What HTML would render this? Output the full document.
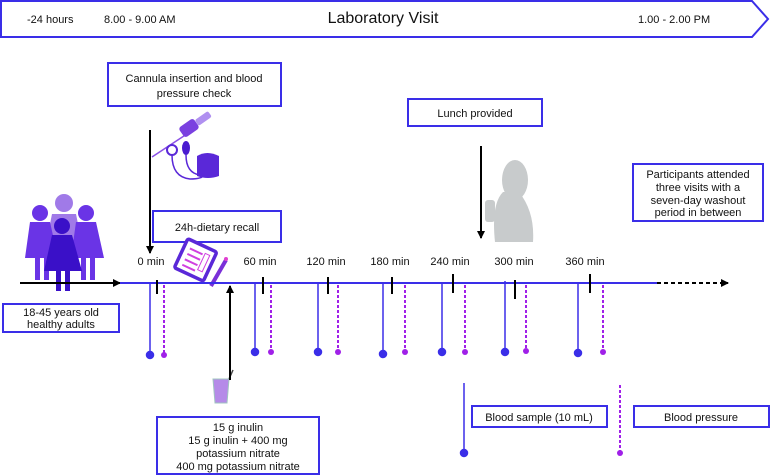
<!DOCTYPE html>
<html><head><meta charset="utf-8"><style>
html,body{margin:0;padding:0;background:#fff;width:770px;height:475px;overflow:hidden}
svg text{font-family:"Liberation Sans",sans-serif;fill:#111}
</style></head><body>
<svg width="770" height="475" viewBox="0 0 770 475" xmlns="http://www.w3.org/2000/svg">
<defs>
<marker id="ah" markerWidth="8" markerHeight="8" refX="7" refY="4" orient="auto" markerUnits="userSpaceOnUse"><path d="M0,0 L8,4 L0,8 z" fill="#000"/></marker>
</defs>
<polygon points="1,1 752,1 768,19 752,37 1,37" fill="#fff" stroke="#3a2ee8" stroke-width="2"/>
<text x="27" y="23" font-size="11">-24 hours</text>
<text x="104" y="23" font-size="11">8.00 - 9.00 AM</text>
<text x="383" y="23" font-size="16" text-anchor="middle">Laboratory Visit</text>
<text x="638" y="23" font-size="11">1.00 - 2.00 PM</text>

<g fill="#fff" stroke="#3a2ee8" stroke-width="2">
<rect x="108" y="63" width="173" height="43"/>
<rect x="408" y="99" width="134" height="27"/>
<rect x="633" y="164" width="130" height="57"/>
<rect x="153" y="211" width="128" height="31"/>
<rect x="3" y="304" width="116" height="28"/>
<rect x="157" y="417" width="162" height="57"/>
<rect x="472" y="406" width="135" height="21"/>
<rect x="634" y="406" width="135" height="21"/>
</g>
<g font-size="11" text-anchor="middle">
<text x="194" y="82">Cannula insertion and blood</text>
<text x="194" y="97">pressure check</text>
<text x="475" y="117">Lunch provided</text>
<text x="698" y="178">Participants attended</text>
<text x="698" y="191">three visits with a</text>
<text x="698" y="204">seven-day washout</text>
<text x="698" y="216">period in between</text>
<text x="217" y="231">24h-dietary recall</text>
<text x="61" y="316">18-45 years old</text>
<text x="61" y="328">healthy adults</text>
<text x="238" y="431">15 g inulin</text>
<text x="238" y="444">15 g inulin + 400 mg</text>
<text x="238" y="457">potassium nitrate</text>
<text x="238" y="470">400 mg potassium nitrate</text>
<text x="539" y="421">Blood sample (10 mL)</text>
<text x="701" y="421">Blood pressure</text>
</g>

<!-- people -->
<g>
<circle cx="64" cy="203" r="9" fill="#a07ae8"/>
<path d="M52,214 h24 l6,30 h-36 z" fill="#a07ae8"/>
<circle cx="40" cy="213" r="8" fill="#6a34e6"/>
<path d="M30,222 h20 l8,36 h-9 v22 h-5 v-22 h-4 v22 h-5 v-22 h-10 z" fill="#6a34e6"/>
<circle cx="86" cy="213" r="8" fill="#6a34e6"/>
<path d="M76,222 h20 l8,36 h-9 v22 h-5 v-22 h-4 v22 h-5 v-22 h-10 z" fill="#6a34e6"/>
<circle cx="62" cy="226" r="8" fill="#3a10c8"/>
<path d="M52,235 h20 l10,36 h-12 v20 h-5 v-20 h-4 v20 h-5 v-20 h-12 z" fill="#3a10c8"/>
</g>

<!-- cannula icon -->
<g>
<line x1="152" y1="157" x2="196" y2="128" stroke="#8a50e6" stroke-width="1.5"/>
<rect x="180" y="122" width="18" height="12" rx="3" fill="#7a40e0" transform="rotate(-35 189 128)"/>
<rect x="195" y="115" width="16" height="7" rx="2" fill="#b090f0" transform="rotate(-35 203 118)"/>
<circle cx="172" cy="150" r="5" fill="#fff" stroke="#5a28d8" stroke-width="2"/>
<ellipse cx="186" cy="148" rx="4" ry="7" fill="#4a1cd0"/>
<path d="M197,156 q10,-6 22,0 v20 q-11,4 -22,0 z" fill="#5a28d8"/>
<path d="M172,155 q0,22 18,24 q12,0 14,-4 M186,155 q0,18 14,20" fill="none" stroke="#5a28d8" stroke-width="1.5"/>
</g>

<!-- lunch person -->
<g fill="#c8cbcc">
<ellipse cx="515" cy="180" rx="13" ry="20"/>
<path d="M503,192 q-12,12 -8,50 h38 q2,-30 -14,-50 z"/>
<rect x="485" y="200" width="10" height="22" rx="3"/>
</g>

<!-- clipboard -->
<g transform="rotate(25 196 259)">
<rect x="180" y="244" width="32" height="32" rx="2" fill="#fff" stroke="#5a28d8" stroke-width="3.5"/>
<line x1="186" y1="252" x2="200" y2="252" stroke="#d040e0" stroke-width="2"/>
<line x1="186" y1="258" x2="200" y2="258" stroke="#d040e0" stroke-width="2"/>
<line x1="186" y1="264" x2="200" y2="264" stroke="#d040e0" stroke-width="2"/>
<line x1="186" y1="270" x2="200" y2="270" stroke="#d040e0" stroke-width="2"/>
<rect x="202" y="250" width="5" height="18" fill="none" stroke="#d040e0" stroke-width="1"/>
</g>
<line x1="226" y1="260" x2="211" y2="286" stroke="#7a30d8" stroke-width="4"/>
<circle cx="226" cy="259" r="2" fill="#e040d0"/>

<!-- glass -->
<line x1="225" y1="388" x2="233" y2="370" stroke="#444" stroke-width="1.5"/>
<path d="M213,379 h16 l-2,24 h-12 z" fill="#b58ae8" stroke="#a0c4c0" stroke-width="1"/>

<!-- arrows -->
<line x1="150" y1="130" x2="150" y2="253" stroke="#000" stroke-width="2" marker-end="url(#ah)"/>
<line x1="481" y1="146" x2="481" y2="238" stroke="#000" stroke-width="2" marker-end="url(#ah)"/>
<line x1="230" y1="380" x2="230" y2="286" stroke="#000" stroke-width="2" marker-end="url(#ah)"/>
<line x1="20" y1="283" x2="120" y2="283" stroke="#000" stroke-width="2" marker-end="url(#ah)"/>

<line x1="120" y1="283" x2="657" y2="283" stroke="#3a2ee8" stroke-width="2"/>
<line x1="657" y1="283" x2="728" y2="283" stroke="#000" stroke-width="2" stroke-dasharray="4,3" marker-end="url(#ah)"/>
<g font-size="11" text-anchor="middle">
<text x="151" y="265">0 min</text>
<text x="260" y="265">60 min</text>
<text x="326" y="265">120 min</text>
<text x="390" y="265">180 min</text>
<text x="450" y="265">240 min</text>
<text x="514" y="265">300 min</text>
<text x="585" y="265">360 min</text>
</g>
<g stroke="#000" stroke-width="2">
<line x1="157" y1="280" x2="157" y2="294"/>
<line x1="263" y1="277" x2="263" y2="294"/>
<line x1="328" y1="277" x2="328" y2="294"/>
<line x1="392" y1="277" x2="392" y2="294"/>
<line x1="453" y1="274" x2="453" y2="293"/>
<line x1="515" y1="280" x2="515" y2="299"/>
<line x1="590" y1="274" x2="590" y2="293"/>
</g>
<g stroke="#3a2ee8" stroke-width="1.5" fill="#3a2ee8">
<line x1="150" y1="284" x2="150" y2="355"/><circle cx="150" cy="355" r="3.5"/>
<line x1="255" y1="284" x2="255" y2="352"/><circle cx="255" cy="352" r="3.5"/>
<line x1="318" y1="284" x2="318" y2="352"/><circle cx="318" cy="352" r="3.5"/>
<line x1="383" y1="284" x2="383" y2="354"/><circle cx="383" cy="354" r="3.5"/>
<line x1="442" y1="284" x2="442" y2="352"/><circle cx="442" cy="352" r="3.5"/>
<line x1="505" y1="281" x2="505" y2="352"/><circle cx="505" cy="352" r="3.5"/>
<line x1="578" y1="284" x2="578" y2="353"/><circle cx="578" cy="353" r="3.5"/>
<line x1="464" y1="383" x2="464" y2="453"/><circle cx="464" cy="453" r="3.5"/>
</g>
<g stroke="#a020e8" stroke-width="2" fill="#a020e8">
<line x1="164" y1="285" x2="164" y2="355" stroke-dasharray="3,2"/><circle cx="164" cy="355" r="3" stroke="none"/>
<line x1="271" y1="285" x2="271" y2="352" stroke-dasharray="3,2"/><circle cx="271" cy="352" r="3" stroke="none"/>
<line x1="338" y1="285" x2="338" y2="352" stroke-dasharray="3,2"/><circle cx="338" cy="352" r="3" stroke="none"/>
<line x1="405" y1="285" x2="405" y2="352" stroke-dasharray="3,2"/><circle cx="405" cy="352" r="3" stroke="none"/>
<line x1="465" y1="285" x2="465" y2="352" stroke-dasharray="3,2"/><circle cx="465" cy="352" r="3" stroke="none"/>
<line x1="526" y1="285" x2="526" y2="351" stroke-dasharray="3,2"/><circle cx="526" cy="351" r="3" stroke="none"/>
<line x1="603" y1="285" x2="603" y2="352" stroke-dasharray="3,2"/><circle cx="603" cy="352" r="3" stroke="none"/>
<line x1="620" y1="385" x2="620" y2="453" stroke-dasharray="3,2"/><circle cx="620" cy="453" r="3" stroke="none"/>
</g>
</svg>
</body></html>
